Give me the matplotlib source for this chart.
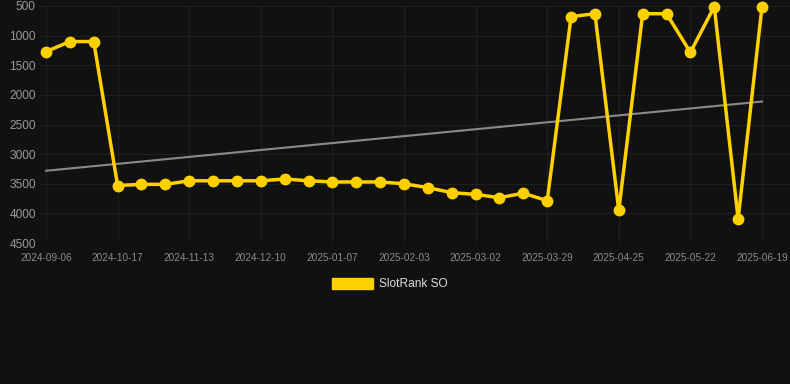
import matplotlib
matplotlib.use("Agg")
import matplotlib.pyplot as plt
import numpy as np
from matplotlib.patches import Patch

plt.rcParams['font.family'] = ['Liberation Sans', 'DejaVu Sans']

tick_labels = ["2024-09-06", "2024-10-17", "2024-11-13", "2024-12-10", "2025-01-07",
               "2025-02-03", "2025-03-02", "2025-03-29", "2025-04-25", "2025-05-22", "2025-06-19"]
rank_values = [1270, 1100, 1100, 3530, 3510, 3510, 3450, 3450, 3450, 3450, 3420,
               3450, 3470, 3470, 3470, 3500, 3566, 3650, 3680, 3735, 3660, 3786,
               680, 630, 3950, 630, 630, 1282, 511, 4095, 510]
series_name = "SlotRank SO"

bg = "#111111"
yellow = "#FFD000"

fig = plt.figure(figsize=(7.9, 3.84), dpi=100, facecolor=bg)
ax = fig.add_axes([40/790, 1-243/384, 750/790, 237/384], facecolor=bg)

x = np.arange(len(rank_values))
y = np.array(rank_values, dtype=float)

coef = np.polyfit(x, y, 1)
ax.plot(x, np.polyval(coef, x), color="#8a8a8a", lw=1.5, zorder=2)

ax.plot(x, y, color=yellow, lw=2.5, marker="o", ms=7.5, mfc=yellow, mec=yellow, zorder=3, clip_on=False)

ax.set_ylim(4500, 500)
ax.set_xlim(-6/23.87, 30 + 28/23.87)
ax.set_yticks([500, 1000, 1500, 2000, 2500, 3000, 3500, 4000, 4500])
ax.set_xticks(np.arange(0, len(rank_values), 3))
ax.set_xticklabels(tick_labels)

ax.grid(True, color="#1f1f1f", lw=0.8)
ax.set_axisbelow(True)
for s in ax.spines.values():
    s.set_visible(False)
ax.tick_params(axis="y", colors="#999999", labelsize=8.6, length=0, pad=3)
ax.tick_params(axis="x", colors="#8a8a8a", labelsize=7.2, length=0, pad=7)

handle = Patch(facecolor=yellow, edgecolor=yellow)
fig.legend([handle], [series_name], loc="center", bbox_to_anchor=(390/790, 1-284/384),
           frameon=False, fontsize=8.6, labelcolor="#dddddd",
           handlelength=3.4, handleheight=1.1, handletextpad=0.5)

fig.savefig("out.png", dpi=100, facecolor=bg)
